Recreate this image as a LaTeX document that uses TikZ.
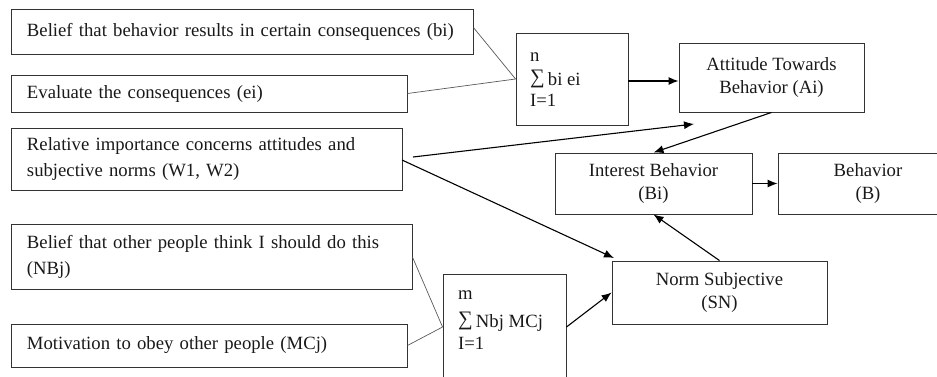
\documentclass[tikz,border=0pt]{standalone}
\usepackage{fontspec}
\setmainfont{Liberation Serif}
\usetikzlibrary{arrows.meta}
\begin{document}
\begin{tikzpicture}[x=1pt,y=-1pt,
  every node/.style={font=\fontsize{18.7}{26}\selectfont, text=black!90},
  box/.style={draw=black!80, line width=0.9pt, inner sep=0pt},
  lbox/.style={box, align=left},
  cbox/.style={box, align=center, font=\fontsize{18.7}{23}\selectfont},
  thin/.style={draw=black!65, line width=0.7pt},
  arr/.style={draw=black, line width=1.1pt, -{Latex[length=10pt,width=8pt]}},
  sumtxt/.style={anchor=base west, inner sep=0pt}
]
\useasboundingbox (0,0) rectangle (937,376);
% left boxes
\node[lbox, minimum width=462pt, minimum height=45pt, text width=430pt] (bi) at (242,31.5) {Belief that behavior results in certain consequences (bi)};
\node[lbox, minimum width=396pt, minimum height=37pt, text width=364pt] (ei) at (209,93.5) {Evaluate the consequences (ei)};
\node[lbox, minimum width=391pt, minimum height=62pt, text width=359pt] (w) at (206.5,159) {Relative importance concerns attitudes and\\subjective norms (W1, W2)};
\node[lbox, minimum width=401pt, minimum height=65pt, text width=369pt] (nbj) at (211.5,257) {Belief that other people think I should do this\\(NBj)};
\node[lbox, minimum width=396pt, minimum height=43pt, text width=364pt] (mcj) at (209,345.5) {Motivation to obey other people (MCj)};
% sum boxes
\node[box, minimum width=112pt, minimum height=92pt] (s1) at (572,79) {};
\node[sumtxt] (s1a) at (530,61) {n};
\node[sumtxt] (s1b) at (530,85) {\raisebox{1.5pt}{\scalebox{1.1}{∑}}\,bi ei};
\node[sumtxt] (s1c) at (530,106) {I=1};
\node[box, minimum width=123pt, minimum height=106pt] (s2) at (504.5,327) {};
\node[sumtxt] (s2a) at (458,299) {m};
\node[sumtxt] (s2b) at (458,327) {\raisebox{1.5pt}{\scalebox{1.1}{∑}}\,Nbj MCj};
\node[sumtxt] (s2c) at (458,349) {I=1};
% right boxes
\node[cbox, minimum width=185pt, minimum height=69pt] (att) at (771.5,77.5) {Attitude Towards\\Behavior (Ai)};
\node[cbox, minimum width=197pt, minimum height=61pt] (ib) at (653.5,183.5) {Interest Behavior\\(Bi)};
\node[cbox, minimum width=180pt, minimum height=61pt] (beh) at (868,183.5) {Behavior\\(B)};
\node[cbox, minimum width=215pt, minimum height=63pt] (sn) at (719.5,292.5) {Norm Subjective\\(SN)};
% free ends
\coordinate (wup) at (413,157);
\coordinate (wlo) at (402,160);
\coordinate (tatt) at (694,124);
\coordinate (tsn) at (614,258);
\coordinate (s1out) at (628,81);
% connectors
\draw[thin] (bi.east) ++(0,-4) -- (s1.west);
\draw[thin] (ei.east) -- (s1.west);
\draw[arr] (s1out) -- (s1out -| att.west);
\draw[arr] (att.south) -- (ib.north);
\draw[arr] (ib.east) -- (beh.west);
\draw[arr] (sn.north) -- (ib.south);
\draw[arr] (wup) -- (tatt);
\draw[arr] (wlo) -- (tsn);
\draw[thin] (nbj.east) -- (s2.west);
\draw[thin] (mcj.east) -- (s2.west);
\draw[arr] (s2.east) -- (sn.west);
\end{tikzpicture}
\end{document}
